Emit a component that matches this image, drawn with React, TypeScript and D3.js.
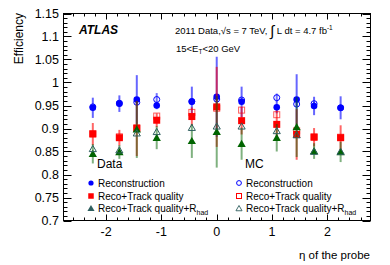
import React, { useEffect, useRef } from "react";
import * as d3 from "d3";

// eta bin centres of the probe
const etaBins = [-2.24, -1.76, -1.445, -1.085, -0.45, 0, 0.45, 1.085, 1.445, 1.76, 2.24];

// Data
const dataReco = [0.945, 0.954, 0.963, 0.950, 0.958, 0.969, 0.958, 0.946, 0.963, 0.949, 0.945];
const dataRecoErr = [0.022, 0.018, 0.053, 0.008, 0.033, 0.087, 0.033, 0.013, 0.055, 0.02, 0.025];
const dataTrk = [0.888, 0.880, 0.900, 0.918, 0.926, 0.947, 0.917, 0.909, 0.887, 0.881, 0.880];
const dataTrkErr = [0.024, 0.017, 0.06, 0.015, 0.02, 0.087, 0.03, 0.03, 0.055, 0.02, 0.027];
const dataRhad = [0.845, 0.849, 0.898, 0.880, 0.873, 0.893, 0.867, 0.880, 0.903, 0.851, 0.849];
const dataRhadErr = [0.021, 0.015, 0.062, 0.025, 0.037, 0.078, 0.035, 0.03, 0.065, 0.017, 0.022];

// MC
const mcReco = [0.947, 0.955, 0.957, 0.963, 0.959, 0.964, 0.962, 0.967, 0.953, 0.954, 0.945];
const mcRecoErr = [0.004, 0.004, 0.004, 0.014, 0.004, 0.004, 0.004, 0.009, 0.004, 0.004, 0.004];
const mcTrk = [0.889, 0.882, 0.902, 0.927, 0.935, 0.944, 0.940, 0.930, 0.895, 0.882, 0.881];
const mcRhad = [0.856, 0.853, 0.890, 0.893, 0.902, 0.905, 0.905, 0.895, 0.886, 0.850, 0.850];

const yTicks = [0.7, 0.75, 0.8, 0.85, 0.9, 0.95, 1, 1.05, 1.1, 1.15];
const xTicks = [-2, -1, 0, 1, 2];

const FONT = "'Liberation Sans', Arial, Helvetica, sans-serif";

const App: React.FC = () => {
  const svgRef = useRef<SVGSVGElement | null>(null);

  useEffect(() => {
    const svg = d3.select(svgRef.current);
    svg.selectAll("*").remove();

    const left = 63.5, right = 370.5, top = 13.5, bottom = 220.5;
    const x = d3.scaleLinear().domain([-2.77, 2.78]).range([left, right]);
    const y = d3.scaleLinear().domain([0.7, 1.15]).range([bottom, top]);

    const blue = "#0000ff", red = "#ff0000", green = "#006400", teal = "#2f5f5f";

    // frame
    svg.append("rect")
      .attr("x", left).attr("y", top)
      .attr("width", right - left).attr("height", bottom - top)
      .attr("fill", "none").attr("stroke", "#000").attr("stroke-width", 1);

    const ticks = svg.append("g").attr("stroke", "#000").attr("stroke-width", 1);
    // y ticks, inside on left and right
    d3.range(0.7, 1.1501, 0.01).forEach((v) => {
      const major = yTicks.some((t) => Math.abs(t - v) < 1e-6);
      const len = major ? 8 : 4;
      const yy = Math.round(y(v)) + 0.5;
      ticks.append("line").attr("x1", left).attr("x2", left + len).attr("y1", yy).attr("y2", yy);
      ticks.append("line").attr("x1", right).attr("x2", right - len).attr("y1", yy).attr("y2", yy);
    });
    // x ticks, inside on bottom and top
    d3.range(-2.6, 2.601, 0.2).forEach((v) => {
      const major = xTicks.some((t) => Math.abs(t - v) < 1e-6);
      const len = major ? 6 : 3;
      const xx = Math.round(x(v)) + 0.5;
      ticks.append("line").attr("x1", xx).attr("x2", xx).attr("y1", bottom).attr("y2", bottom - len);
      ticks.append("line").attr("x1", xx).attr("x2", xx).attr("y1", top).attr("y2", top + len);
    });

    // tick labels
    svg.append("g").selectAll("text").data(yTicks).enter().append("text")
      .attr("x", 59).attr("y", (d) => y(d) + 4.5)
      .attr("text-anchor", "end").attr("font-family", FONT).attr("font-size", 12.5)
      .text((d) => String(d));
    svg.append("g").selectAll("text").data(xTicks).enter().append("text")
      .attr("x", (d) => x(d)).attr("y", 236)
      .attr("text-anchor", "middle").attr("font-family", FONT).attr("font-size", 12.5)
      .text((d) => (d < 0 ? "-" + Math.abs(d) : String(d)));

    // axis titles
    svg.append("text")
      .attr("transform", "translate(23,13) rotate(-90)")
      .attr("text-anchor", "end").attr("font-family", FONT).attr("font-size", 12)
      .text("Efficiency");
    svg.append("text")
      .attr("x", 370).attr("y", 259)
      .attr("text-anchor", "end").attr("font-family", FONT).attr("font-size", 11.5)
      .text("η of the probe");

    // error bars + markers
    const errBars = (vals: number[], errs: number[], color: string, op: number) => {
      svg.append("g").selectAll("line").data(vals).enter().append("line")
        .attr("x1", (_d, i) => x(etaBins[i])).attr("x2", (_d, i) => x(etaBins[i]))
        .attr("y1", (d, i) => y(d - errs[i])).attr("y2", (d, i) => y(d + errs[i]))
        .attr("stroke", color).attr("stroke-width", 2).attr("stroke-opacity", op);
    };

    const circles = (vals: number[], color: string, filled: boolean) => {
      svg.append("g").selectAll("circle").data(vals).enter().append("circle")
        .attr("cx", (_d, i) => x(etaBins[i])).attr("cy", (d) => y(d))
        .attr("r", filled ? 3.3 : 3)
        .attr("fill", filled ? color : "none")
        .attr("stroke", color).attr("stroke-width", filled ? 0 : 1);
    };
    const squares = (vals: number[], color: string, filled: boolean) => {
      const s = filled ? 7 : 6;
      svg.append("g").selectAll("rect").data(vals).enter().append("rect")
        .attr("x", (_d, i) => x(etaBins[i]) - s / 2).attr("y", (d) => y(d) - s / 2)
        .attr("width", s).attr("height", s)
        .attr("fill", filled ? color : "none")
        .attr("stroke", color).attr("stroke-width", filled ? 0 : 1)
        .attr("stroke-opacity", filled ? 1 : 0.65);
    };
    const tri = d3.symbol().type(d3.symbolTriangle);
    const triangles = (vals: number[], color: string, filled: boolean) => {
      svg.append("g").selectAll("path").data(vals).enter().append("path")
        .attr("d", tri.size(filled ? 30 : 22)()!)
        .attr("transform", (d, i) => `translate(${x(etaBins[i])},${y(d) + 0.8})`)
        .attr("fill", filled ? color : "none")
        .attr("stroke", color).attr("stroke-width", filled ? 0 : 1);
    };

    errBars(mcReco, mcRecoErr, blue, 0.55);
    errBars(dataReco, dataRecoErr, blue, 0.6);
    circles(dataReco, blue, true);
    circles(mcReco, blue, false);

    errBars(dataTrk, dataTrkErr, red, 0.6);
    squares(dataTrk, red, true);
    squares(mcTrk, red, false);

    errBars(dataRhad, dataRhadErr, green, 0.5);
    triangles(dataRhad, green, true);
    triangles(mcRhad, teal, false);

    // labels
    svg.append("text")
      .attr("x", 79).attr("y", 34)
      .attr("font-family", FONT).attr("font-size", 12)
      .attr("font-weight", "bold").attr("font-style", "italic")
      .text("ATLAS");

    const lumi = svg.append("text")
      .attr("x", 175).attr("y", 34)
      .attr("font-family", FONT).attr("font-size", 9.5);
    lumi.append("tspan").text("2011 Data,√s = 7 TeV, ");
    lumi.append("tspan").attr("font-size", 15).attr("dy", 2).text("∫");
    lumi.append("tspan").attr("dy", -2).text(" L dt = 4.7 fb");
    lumi.append("tspan").attr("font-size", 6.5).attr("dy", -4).text("-1");

    const et = svg.append("text")
      .attr("x", 176).attr("y", 52)
      .attr("font-family", FONT).attr("font-size", 9.5);
    et.append("tspan").text("15<E");
    et.append("tspan").attr("font-size", 6.5).attr("dy", 2).text("T");
    et.append("tspan").attr("dy", -2).text("<20 GeV");

    // legend
    const legendRows = [
      { label: "Reconstruction", kind: "circle", color: blue },
      { label: "Reco+Track quality", kind: "square", color: red },
      { label: "Reco+Track quality+R", kind: "triangle", color: teal },
    ];
    const legRowY = [186.5, 199.5, 212];
    const legend = (x0: number, head: string, filled: boolean) => {
      svg.append("text")
        .attr("x", x0 + 6).attr("y", 168)
        .attr("font-family", FONT).attr("font-size", 12).text(head);
      legendRows.forEach((r, i) => {
        const cy = legRowY[i] - 3.5;
        if (r.kind === "circle") {
          svg.append("circle").attr("cx", x0).attr("cy", cy).attr("r", filled ? 2.6 : 2.4)
            .attr("fill", filled ? r.color : "none").attr("stroke", r.color)
            .attr("stroke-width", filled ? 0 : 1);
        } else if (r.kind === "square") {
          const s = filled ? 5.5 : 5;
          svg.append("rect").attr("x", x0 - s / 2).attr("y", cy - s / 2).attr("width", s).attr("height", s)
            .attr("fill", filled ? r.color : "none").attr("stroke", r.color)
            .attr("stroke-width", filled ? 0 : 1);
        } else {
          svg.append("path").attr("d", tri.size(filled ? 22 : 16)()!)
            .attr("transform", `translate(${x0},${cy + 0.5})`)
            .attr("fill", filled ? r.color : "none").attr("stroke", r.color)
            .attr("stroke-width", filled ? 0 : 0.9);
        }
        const t = svg.append("text")
          .attr("x", x0 + 7).attr("y", legRowY[i])
          .attr("font-family", FONT).attr("font-size", 10);
        t.append("tspan").text(r.label);
        if (r.kind === "triangle") {
          t.append("tspan").attr("font-size", 7).attr("dy", 3).text("had");
        }
      });
    };
    legend(91, "Data", true);
    legend(239, "MC", false);
  }, []);

  return (
    <svg
      ref={svgRef}
      width={390}
      height={265}
      style={{ position: "absolute", left: 0, top: 0, background: "#fff" }}
    />
  );
};

export default App;
